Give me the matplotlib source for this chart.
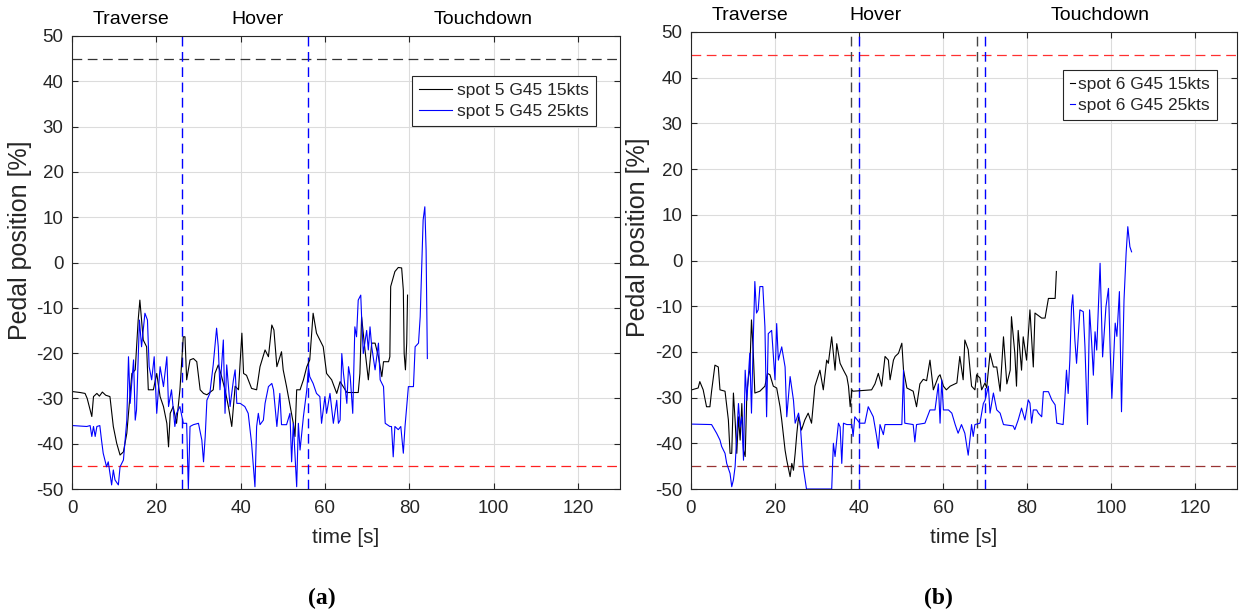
import matplotlib
matplotlib.use("Agg")
import matplotlib.pyplot as plt

plt.rcParams["font.family"] = ["Liberation Sans", "DejaVu Sans"]
plt.rcParams["lines.scale_dashes"] = False
plt.rcParams["axes.unicode_minus"] = False

# spot 5, G45 (panel a)
t_a15 = [0.2, 1.9, 3.1, 3.6, 4.7, 5.1, 5.9, 6.5, 7.2, 8.0, 9.0, 9.8, 10.6, 11.4, 12.2, 13.0, 13.4, 14.2,
         15.0, 15.7, 16.1, 16.9, 17.7, 18.1, 19.3, 20.1, 20.9, 21.7, 22.5, 22.9, 23.3, 24.0, 24.8, 25.6,
         26.4, 26.8, 27.2, 28.0, 28.8, 29.6, 30.4, 31.2, 32.0, 33.5, 33.9, 34.7, 35.5, 36.3, 37.1, 37.9,
         38.7, 39.5, 40.3, 40.7, 41.4, 42.6, 43.8, 44.6, 45.8, 46.6, 47.4, 47.9, 48.6, 49.7, 50.1, 50.9,
         52.5, 52.9, 53.3, 54.1, 54.9, 55.7, 56.4, 57.2, 58.0, 58.8, 59.6, 60.4, 61.6, 62.8, 63.6, 65.2,
         67.9, 68.3, 68.7, 69.5, 70.3, 71.1, 71.9, 72.7, 73.5, 73.9, 75.1, 75.4, 75.6, 76.6, 77.4, 78.2,
         78.6, 78.8, 79.1, 79.4, 79.6]
p_a15 = [-28.5, -28.7, -28.9, -30.0, -34.0, -29.6, -28.9, -29.5, -28.6, -29.3, -29.6, -36.2, -39.9, -42.5,
         -41.8, -37.7, -33.3, -24.5, -23.7, -12.7, -8.3, -17.1, -18.6, -28.1, -28.1, -24.5, -29.6, -31.8,
         -35.5, -40.7, -33.3, -31.8, -35.5, -28.1, -16.4, -16.4, -25.9, -21.5, -21.2, -21.9, -28.1, -28.9,
         -29.2, -28.1, -24.5, -22.6, -25.2, -28.1, -31.8, -36.2, -27.3, -28.1, -15.6, -24.5, -24.9, -27.8,
         -28.1, -23.0, -19.3, -20.8, -13.8, -14.9, -23.0, -19.7, -23.7, -27.4, -35.5, -38.4, -28.1, -28.1,
         -25.9, -23.0, -21.5, -11.2, -15.6, -17.1, -18.6, -24.5, -25.9, -28.9, -26.3, -28.7, -28.7, -24.5,
         -12.0, -19.3, -25.9, -17.8, -17.8, -20.8, -25.2, -21.9, -21.9, -20.8, -5.3, -2.0, -1.1, -1.2,
         -6.1, -20.1, -23.7, -17.8, -7.2]

t_a25 = [0.2, 3.5, 4.3, 4.7, 5.1, 5.5, 5.9, 6.6, 7.0, 7.4, 8.2, 8.6, 9.4, 9.8, 10.2, 11.0, 11.4, 12.2, 13.0,
         13.4, 13.8, 14.6, 15.0, 15.3, 15.7, 16.0, 16.5, 17.3, 17.9, 18.3, 18.9, 19.5, 20.1, 20.9, 21.7,
         22.5, 22.9, 23.6, 24.4, 24.8, 25.6, 26.4, 27.2, 27.6, 28.0, 28.8, 30.0, 30.8, 31.2, 31.6, 32.0,
         32.7, 33.5, 34.3, 34.7, 35.1, 35.9, 36.3, 36.7, 37.5, 38.3, 38.7, 39.1, 39.9, 41.0, 41.8, 42.6,
         43.4, 43.8, 44.2, 44.6, 45.4, 45.8, 46.6, 47.4, 47.8, 48.6, 49.3, 49.7, 50.9, 51.7, 52.1, 52.5,
         53.3, 53.7, 54.1, 54.9, 55.7, 56.1, 56.4, 57.2, 58.0, 58.8, 59.2, 60.0, 60.4, 61.2, 62.0, 62.8,
         63.2, 63.6, 64.0, 64.4, 65.2, 65.6, 66.0, 66.6, 67.1, 67.5, 67.9, 68.5, 68.7, 69.1, 69.9, 70.3,
         70.7, 71.1, 71.9, 72.7, 73.1, 73.9, 74.3, 75.4, 75.8, 76.2, 76.6, 77.4, 78.0, 78.6, 79.0, 79.8,
         81.0, 81.4, 82.2, 82.6, 83.3, 83.7, 84.0, 84.3]
p_a25 = [-36.0, -36.2, -36.0, -38.4, -36.2, -38.4, -36.2, -36.0, -39.2, -42.1, -45.1, -44.0, -49.1, -45.8,
         -48.0, -49.1, -45.1, -43.6, -34.8, -20.8, -31.1, -21.5, -34.8, -32.6, -20.8, -12.7, -18.6, -11.2,
         -12.7, -23.0, -25.9, -20.8, -33.3, -23.0, -27.4, -20.8, -31.8, -28.1, -36.2, -33.3, -31.8, -35.5,
         -35.5, -50.0, -36.2, -35.8, -35.5, -39.2, -44.0, -38.4, -30.4, -28.9, -22.6, -14.5, -18.6, -28.1,
         -17.1, -33.3, -22.6, -31.8, -25.9, -23.7, -31.1, -31.1, -31.8, -33.3, -39.9, -49.5, -36.2, -33.3,
         -35.8, -34.8, -31.1, -27.4, -26.7, -28.1, -36.2, -28.9, -35.8, -35.8, -33.3, -44.0, -35.5, -49.5,
         -35.5, -41.4, -34.0, -28.1, -23.0, -25.2, -26.7, -28.9, -29.6, -35.5, -29.6, -33.3, -28.9, -35.5,
         -30.4, -35.5, -34.8, -20.1, -24.5, -31.1, -23.0, -25.2, -33.3, -14.2, -16.4, -8.3, -7.2, -12.0,
         -20.1, -15.0, -19.3, -14.2, -18.6, -23.7, -17.8, -25.9, -27.4, -35.5, -36.2, -36.2, -42.9, -36.2,
         -36.9, -36.2, -42.1, -36.2, -27.4, -27.4, -18.6, -17.8, -12.0, 9.4, 12.3, 2.8, -21.2]

# spot 6, G45 (panel b)
t_b15 = [0.2, 1.7, 2.1, 2.9, 3.7, 4.5, 4.9, 5.7, 6.5, 6.9, 8.1, 8.9, 9.3, 9.7, 10.1, 10.5, 10.9, 11.3, 11.7,
         12.1, 12.5, 12.9, 13.3, 13.7, 14.0, 14.4, 14.8, 15.2, 16.4, 17.6, 18.2, 18.8, 19.6, 20.4, 21.2,
         21.6, 22.4, 22.8, 23.6, 24.0, 24.4, 24.8, 25.2, 25.6, 26.3, 27.1, 27.9, 28.7, 29.5, 30.7, 31.5,
         32.3, 32.7, 33.5, 34.3, 34.7, 35.5, 36.3, 37.1, 37.5, 37.9, 38.3, 38.6, 43.0, 43.8, 44.6, 45.4,
         46.2, 47.0, 47.4, 48.2, 48.6, 49.4, 50.2, 50.6, 51.4, 52.9, 53.7, 54.5, 55.3, 56.1, 56.9, 57.7,
         58.9, 59.3, 60.1, 60.8, 61.7, 63.3, 64.0, 64.8, 65.2, 66.0, 66.8, 67.6, 68.0, 68.8, 69.2, 70.0,
         70.4, 71.2, 72.0, 72.8, 73.6, 74.4, 75.2, 76.0, 76.3, 77.1, 77.5, 77.9, 78.7, 79.1, 79.9, 80.7,
         81.5, 81.9, 83.5, 84.3, 85.1, 86.7, 87.0]
p_b15 = [-28.3, -27.9, -26.5, -28.3, -32.0, -32.0, -28.6, -22.9, -23.3, -28.3, -28.6, -34.9, -42.2, -42.2,
         -29.0, -34.9, -42.2, -34.2, -39.3, -31.3, -41.5, -42.9, -29.0, -25.4, -24.0, -13.0, -19.5, -29.0,
         -28.6, -27.5, -24.7, -25.0, -27.5, -27.9, -32.0, -34.9, -41.5, -43.7, -47.3, -44.4, -45.9, -42.2,
         -37.8, -34.2, -37.1, -34.9, -33.4, -35.6, -27.5, -24.0, -28.3, -21.8, -22.5, -16.7, -24.0, -18.2,
         -22.5, -24.0, -25.4, -27.5, -32.0, -28.3, -28.6, -28.3, -27.0, -24.7, -27.5, -21.0, -21.8, -26.1,
         -21.8, -21.0, -20.3, -18.1, -24.0, -27.9, -28.6, -32.0, -27.0, -26.0, -26.3, -21.8, -28.3, -25.4,
         -25.0, -27.5, -28.3, -27.5, -26.8, -21.0, -26.1, -17.4, -19.5, -27.5, -28.3, -25.0, -25.7, -28.3,
         -26.8, -27.9, -20.3, -23.3, -23.3, -28.6, -16.7, -27.0, -24.0, -12.3, -20.3, -27.5, -15.3, -24.0,
         -16.7, -21.8, -10.8, -23.3, -11.5, -12.6, -12.6, -8.3, -8.3, -2.4]

t_b25 = [0.2, 4.9, 6.1, 6.9, 7.3, 8.1, 8.5, 9.3, 9.7, 10.1, 10.5, 11.3, 11.7, 12.1, 12.5, 12.9, 13.3, 14.0,
         14.4, 14.8, 15.2, 15.6, 16.0, 16.4, 17.1, 17.6, 18.0, 18.4, 19.2, 20.0, 20.4, 20.8, 21.6, 22.4,
         22.8, 23.6, 24.4, 24.8, 25.6, 26.0, 26.7, 27.5, 33.5, 33.9, 34.3, 35.1, 35.5, 35.9, 36.3, 37.1,
         38.3, 38.6, 39.0, 40.2, 41.4, 42.2, 43.4, 44.2, 44.6, 45.0, 45.8, 46.2, 50.2, 50.6, 50.9, 52.9,
         53.3, 53.7, 55.7, 56.9, 58.1, 58.9, 59.3, 59.7, 60.1, 61.3, 62.1, 62.9, 63.6, 64.4, 65.2, 66.0,
         66.8, 67.2, 67.6, 68.8, 69.6, 70.0, 70.8, 71.2, 72.0, 72.8, 73.6, 74.4, 76.7, 77.1, 77.9, 78.7,
         79.5, 80.3, 80.7, 81.1, 81.5, 82.3, 82.7, 83.5, 83.9, 85.1, 85.9, 86.7, 87.1, 88.6, 89.0, 89.4,
         89.8, 90.2, 90.6, 90.9, 91.4, 91.8, 92.6, 93.4, 93.8, 94.4, 94.9, 95.4, 95.8, 96.2, 96.6, 97.4,
         98.0, 98.8, 99.4, 99.8, 100.2, 101.0, 101.4, 102.0, 102.5, 103.1, 103.6, 104.0, 104.5, 104.9]
p_b25 = [-35.8, -35.9, -37.8, -39.3, -40.7, -42.2, -44.4, -46.6, -49.5, -48.0, -45.1, -31.3, -36.4, -34.2,
         -43.7, -24.0, -30.6, -20.3, -33.4, -18.2, -4.6, -11.5, -10.8, -5.7, -5.7, -14.5, -34.2, -16.0,
         -15.3, -26.1, -13.8, -21.8, -18.9, -23.3, -34.2, -25.4, -30.6, -35.6, -33.4, -35.6, -45.1, -50.0,
         -50.0, -40.0, -42.9, -35.6, -36.4, -44.4, -35.6, -35.9, -35.9, -38.5, -34.2, -35.6, -35.6, -32.0,
         -34.2, -38.5, -41.1, -35.9, -38.1, -35.9, -35.9, -24.0, -35.6, -35.9, -39.7, -35.9, -35.6, -32.7,
         -32.7, -27.0, -35.6, -26.1, -32.7, -32.7, -33.4, -35.9, -37.8, -35.9, -37.8, -42.6, -35.9, -38.5,
         -35.9, -35.6, -31.3, -30.6, -27.5, -33.4, -29.0, -32.7, -33.4, -35.9, -36.2, -37.0, -34.9, -32.3,
         -34.9, -30.5, -31.2, -35.6, -32.7, -32.7, -33.4, -34.2, -28.7, -28.7, -30.5, -31.6, -35.6, -35.9,
         -30.5, -24.0, -29.1, -21.8, -10.1, -7.5, -17.4, -22.5, -10.8, -11.2, -18.9, -35.9, -10.8, -18.1,
         -25.1, -15.6, -19.6, -0.6, -21.1, -10.1, -6.1, -19.6, -30.2, -13.7, -16.6, -6.8, -33.1, -8.6,
         1.6, 7.4, 3.0, 1.9]

phase_names = ["Traverse", "Hover", "Touchdown"]
phase_x = [14, 44, 97.5]
limit_lines = [45, -45]

axcol = "#262626"
dash = (0, (7, 4))

fig = plt.figure(figsize=(12.41, 6.15), dpi=100)
ax1 = fig.add_axes([72 / 1241, 126 / 615, 548 / 1241, 453 / 615])
ax2 = fig.add_axes([691 / 1241, 126 / 615, 546 / 1241, 457 / 615])

for ax in (ax1, ax2):
    ax.set_xlim(0, 130)
    ax.set_ylim(-50, 50)
    ax.set_xticks(range(0, 121, 20))
    ax.set_yticks(range(-50, 51, 10))
    ax.grid(True, color="#dcdcdc", linewidth=0.8)
    ax.set_axisbelow(True)
    ax.tick_params(direction="in", length=4, width=0.8, colors=axcol, labelsize=13.5,
                   top=True, right=True)
    ax.tick_params(axis="x", pad=8)
    ax.tick_params(axis="y", pad=6)
    for s in ax.spines.values():
        s.set_color(axcol)
        s.set_linewidth(0.8)
    ax.set_xlabel("time [s]", fontsize=15, color=axcol)
    ax.set_ylabel("Pedal position [%]", fontsize=18, color=axcol)
    ax.xaxis.set_label_coords(0.5, -0.085)
    for name, x in zip(phase_names, phase_x):
        ax.text(x, 53.7, name, ha="center", va="center", fontsize=14, color="black", clip_on=False)

ax1.yaxis.set_label_coords(-0.073, 0.55)
ax2.yaxis.set_label_coords(-0.075, 0.55)

# panel a
ax1.axhline(limit_lines[0], color="#333333", lw=0.9, linestyle=dash)
ax1.axhline(limit_lines[1], color="#ff2020", lw=0.9, linestyle=dash)
for x in (26, 56):
    ax1.axvline(x, color="#0000ff", lw=1.0, linestyle=dash)
ax1.plot(t_a15, p_a15, color="black", lw=0.8, label="spot 5 G45 15kts")
ax1.plot(t_a25, p_a25, color="#0000ff", lw=0.8, label="spot 5 G45 25kts")

# panel b
ax2.axhline(limit_lines[0], color="#ff3030", lw=0.9, linestyle=dash)
ax2.axhline(limit_lines[1], color="#993333", lw=0.9, linestyle=dash)
for x in (38, 68):
    ax2.axvline(x, color="#444444", lw=1.0, linestyle=dash)
for x in (40, 70):
    ax2.axvline(x, color="#0000ff", lw=1.0, linestyle=dash)
ax2.plot(t_b15, p_b15, color="black", lw=0.8, label="spot 6 G45 15kts")
ax2.plot(t_b25, p_b25, color="#0000ff", lw=0.8, label="spot 6 G45 25kts")

leg_kw = dict(loc="upper left", fontsize=12.5, fancybox=False, framealpha=1,
              edgecolor=axcol, borderaxespad=0, borderpad=0.4, labelspacing=0.35)
l1 = ax1.legend(bbox_to_anchor=(0.62, 0.912), handlelength=1.9, handletextpad=0.3, **leg_kw)
l2 = ax2.legend(bbox_to_anchor=(0.681, 0.917), handlelength=0.3, handletextpad=0.2, **leg_kw)
for leg in (l1, l2):
    leg.get_frame().set_linewidth(0.8)
    for txt in leg.get_texts():
        txt.set_color(axcol)

fig.text(322 / 1241, 1 - 598 / 615, "(a)", ha="center", va="center", fontsize=17,
         fontweight="bold", family=["Liberation Serif", "DejaVu Serif"])
fig.text(938 / 1241, 1 - 598 / 615, "(b)", ha="center", va="center", fontsize=17,
         fontweight="bold", family=["Liberation Serif", "DejaVu Serif"])

fig.savefig("out.png", dpi=100)
